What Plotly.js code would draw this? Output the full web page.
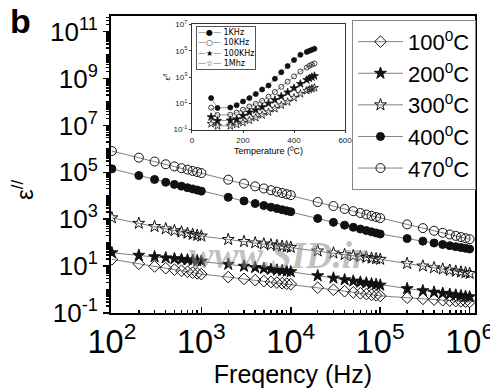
<!DOCTYPE html>
<html>
<head>
<meta charset="utf-8">
<script src="https://cdn.plot.ly/plotly-3.0.1.min.js"></script>
<style>html,body{margin:0;padding:0;background:#fff;}#chart{width:490px;height:392px;}</style>
</head>
<body>
<div id="chart"></div>
<script>
// ---- main panel data: frequency (Hz) vs epsilon'' at five temperatures ----
const freqHz = [100,200,300,400,500,600,700,800,900,
  1000,2000,3000,4000,5000,6000,7000,8000,9000,
  1e4,2e4,3e4,4e4,5e4,6e4,7e4,8e4,9e4,
  1e5,2e5,3e5,4e5,5e5,6e5,7e5,8e5,9e5,1e6];
const seriesNames = ["100<sup>0</sup>C","200<sup>0</sup>C","300<sup>0</sup>C","400<sup>0</sup>C","470<sup>0</sup>C"];
const eps100 = [19.5,12.6,9.75,8.15,7.08,6.31,5.73,5.26,4.89,
  4.57,3.40,2.85,2.52,2.29,2.11,1.98,1.87,1.78,
  1.70,1.20,0.98,0.849,0.760,0.693,0.641,0.600,0.566,
  0.537,0.449,0.404,0.374,0.353,0.337,0.324,0.313,0.303,0.295];
const eps200 = [37.2,29.0,25.0,22.5,20.8,19.5,18.5,17.6,16.9,
  16.2,11.9,9.89,8.69,7.85,7.24,6.76,6.37,6.04,
  5.75,3.87,3.08,2.61,2.30,2.07,1.90,1.76,1.64,
  1.55,1.09,0.893,0.774,0.693,0.632,0.585,0.547,0.516,0.490];
const eps300 = [1148,668,488,389,327,284,252,227,207,
  191,137,112,97.9,87.9,80.7,74.8,70.3,66.4,
  63.1,44.3,36.1,31.1,27.8,25.3,23.4,21.8,20.6,
  19.5,12.9,10.1,8.49,7.43,6.65,6.07,5.60,5.22,4.90];
const eps400 = [1.41e5,7.31e4,4.98e4,3.78e4,3.06e4,2.58e4,2.22e4,1.96e4,1.75e4,
  1.58e4,8.61e3,6.03e3,4.68e3,3.85e3,3.27e3,2.86e3,2.54e3,2.29e3,
  2.09e3,1.08e3,736,560,453,381,329,290,259,
  234,150,116,96.6,83.8,74.5,67.5,61.9,57.4,53.7];
const eps470 = [8.13e5,4.24e5,2.90e5,2.21e5,1.79e5,1.51e5,1.31e5,1.15e5,1.03e5,
  9.33e4,4.86e4,3.33e4,2.54e4,2.06e4,1.73e4,1.50e4,1.32e4,1.18e4,
  1.07e4,5.43e3,3.66e3,2.75e3,2.21e3,1.85e3,1.59e3,1.40e3,1.24e3,
  1.12e3,601,418,322,264,224,195,173,155,141];

// ---- inset data: temperature (C) vs epsilon'' at four frequencies ----
const insetTemp = [75,100,150,175,200,225,250,275,300,325,350,375,400,425,450,460,470,480];
const insetNames = ["1KHz","10KHz","100KHz","1Mhz"];
const insetGlyphs = ["●","○","★","☆"];
const eps1k = [24.5,4.37,4.68,7.08,13.5,24.5,50.1,112,224,741,2340,6920,2.0e4,5.01e4,8.32e4,1.0e5,1.20e5,1.45e5];
const eps10k = [4.57,1.26,1.32,1.91,3.16,5.62,8.91,15.1,31.6,70.8,178,447,1120,2630,5250,7080,8910,1.07e4];
const eps100k = [0.891,0.457,0.501,0.603,1.12,2.0,3.02,5.01,9.55,17.8,33.1,67.6,141,302,603,794,1000,1200];
const eps1M = [0.269,0.186,0.186,0.240,0.331,0.501,0.794,1.26,2.09,3.80,7.08,12.6,26.3,52.5,91.2,112,132,151];

const yTickVals = [0.1,10,1e3,1e5,1e7,1e9,1e11];
const yTickText = ["10<sup>-1</sup>","10<sup>1</sup>","10<sup>3</sup>","10<sup>5</sup>","10<sup>7</sup>","10<sup>9</sup>","10<sup>11</sup>"];
const insetYVals = [0.1,10,1e3,1e5,1e7];
const insetYText = ["10<sup>-1</sup>","10<sup>1</sup>","10<sup>3</sup>","10<sup>5</sup>","10<sup>7</sup>"];
const insetXVals = [0,200,400,600];

const lineGray = '#808080';
function mainTrace(y, name, symbol, size){
  return {x: freqHz, y: y, name: name, type:'scatter', mode:'lines+markers',
    line:{color:lineGray, width:1},
    marker:{symbol:symbol, size:size, color:'#111', line:{color:'#111', width:1}},
    xaxis:'x', yaxis:'y'};
}
function insetTrace(y, name, symbol, size){
  return {x: insetTemp, y: y, name: name, type:'scatter', mode:'lines+markers',
    line:{color:lineGray, width:0.8},
    marker:{symbol:symbol, size:size, color:'#111', line:{color:'#111', width:0.8}},
    xaxis:'x2', yaxis:'y2', showlegend:false};
}
const mainStyles = [['diamond-open',9],['star',9],['star-open',9],['circle',8],['circle-open',9]];
const mainData = [eps100, eps200, eps300, eps400, eps470];
const insetStyles = [['circle',5],['circle-open',5],['star',6],['star-open',6]];
const insetData = [eps1k, eps10k, eps100k, eps1M];

const traces = [];
mainData.forEach((d,i)=>traces.push(mainTrace(d, seriesNames[i], mainStyles[i][0], mainStyles[i][1])));
insetData.forEach((d,i)=>traces.push(insetTrace(d, insetNames[i], insetStyles[i][0], insetStyles[i][1])));

// inset legend as a compact text box (Plotly legends cannot be this tight)
const gray = s => '<span style="color:#808080">'+s+'</span>';
const insetLegendText = insetNames.map((n,i)=>gray('—')+insetGlyphs[i]+gray('—')+' '+n).join('<br>');

const font = 'Liberation Sans, Arial, sans-serif';
const layout = {
  width:490, height:392,
  margin:{l:111, r:15, t:16, b:79},
  paper_bgcolor:'#fff', plot_bgcolor:'#fff',
  font:{family:font, color:'#000'},
  showlegend:true,
  xaxis:{type:'log', range:[1.99,6.06], domain:[0,1], anchor:'y',
    showline:true, mirror:true, linewidth:2, linecolor:'#000',
    ticks:'inside', ticklen:6, tickwidth:1.5, tickcolor:'#000',
    dtick:1, exponentformat:'power', showgrid:false, zeroline:false,
    ticklabeloverflow:'allow',
    tickfont:{size:26, family:font, color:'#000'},
    minor:{dtick:'D1', ticks:'inside', ticklen:3, tickcolor:'#000', showgrid:false},
    title:{text:'Freqency (Hz)', font:{size:25, family:font, color:'#000'}, standoff:4}},
  yaxis:{type:'log', range:[-1,11.67], domain:[0,1], anchor:'x',
    showline:true, mirror:true, linewidth:2, linecolor:'#000',
    ticks:'outside', ticklen:6, tickwidth:1.5, tickcolor:'#000',
    tickmode:'array', tickvals:yTickVals, ticktext:yTickText,
    showgrid:false, zeroline:false,
    tickfont:{size:26, family:font, color:'#000'},
    minor:{dtick:'D1', ticks:'outside', ticklen:3, tickcolor:'#000', showgrid:false}},
  xaxis2:{domain:[0.2225,0.643], anchor:'y2', range:[0,600],
    showline:true, mirror:true, linewidth:1, linecolor:'#333',
    ticks:'outside', ticklen:2, tickcolor:'#333',
    tickmode:'array', tickvals:insetXVals, showgrid:false, zeroline:false,
    tickfont:{size:8, family:font, color:'#222'},
    title:{text:'Temperature (<sup>0</sup>C)', font:{size:9, family:font, color:'#000'}, standoff:1}},
  yaxis2:{domain:[0.616,0.973], anchor:'x2', type:'log', range:[-1.05,7.05],
    showline:true, mirror:true, linewidth:1, linecolor:'#333',
    ticks:'outside', ticklen:2, tickcolor:'#333',
    tickmode:'array', tickvals:insetYVals, ticktext:insetYText,
    showgrid:false, zeroline:false,
    tickfont:{size:8, family:font, color:'#222'},
    title:{text:'ε<sup>//</sup>', font:{size:8, family:font, color:'#000'}, standoff:1}},
  legend:{x:0.662, y:0.987, xanchor:'left', yanchor:'top',
    bgcolor:'#fff', bordercolor:'#888', borderwidth:1,
    font:{size:22, family:font, color:'#000'}, itemwidth:45, tracegroupgap:0},
  annotations:[
    {text:'<b>b</b>', xref:'paper', yref:'paper', x:-0.283, y:1.054, xanchor:'left', yanchor:'top',
     showarrow:false, font:{size:34, family:font, color:'#000'}},
    {text:'ε<sup>//</sup>', xref:'paper', yref:'paper', x:-0.242, y:0.414, xanchor:'center', yanchor:'middle',
     textangle:-90, showarrow:false, font:{size:24, family:font, color:'#000'}},
    {text:'<b><i>www.SID.ir</i></b>', xref:'paper', yref:'paper', x:0.458, y:0.192, xanchor:'center', yanchor:'middle',
     showarrow:false, font:{size:37, family:'Liberation Serif, Times New Roman, serif', color:'rgba(140,140,140,0.55)'}},
    {text:insetLegendText, xref:'paper', yref:'paper', x:0.2335, y:0.966, xanchor:'left', yanchor:'top',
     align:'left', showarrow:false, bgcolor:'#fff', bordercolor:'#555', borderwidth:1, borderpad:1,
     font:{size:8, family:'DejaVu Sans, sans-serif', color:'#000'}}
  ]
};
Plotly.newPlot('chart', traces, layout, {staticPlot:true, displayModeBar:false});
</script>
</body>
</html>
